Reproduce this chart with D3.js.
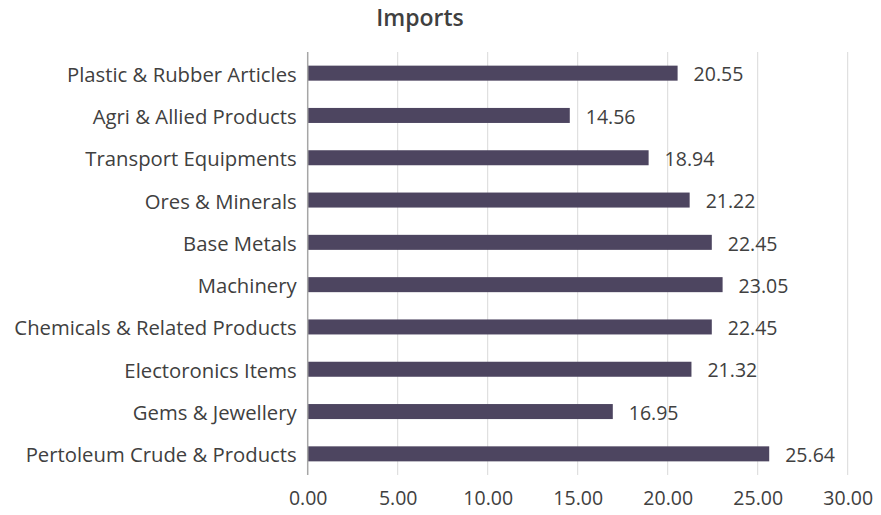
<!DOCTYPE html>
<html>
<head>
<meta charset="utf-8">
<script src="https://cdn.jsdelivr.net/npm/d3@7/dist/d3.min.js"></script>
<style>
  body { margin: 0; background: #fff; }
  svg text { font-family: "Open Sans", "Noto Sans", sans-serif; fill: #404040; }
</style>
</head>
<body>
<svg id="chart" width="881" height="515"></svg>
<script>
// Import categories, top to bottom
const categories = [
  "Plastic & Rubber Articles",
  "Agri & Allied Products",
  "Transport Equipments",
  "Ores & Minerals",
  "Base Metals",
  "Machinery",
  "Chemicals & Related Products",
  "Electoronics Items",
  "Gems & Jewellery",
  "Pertoleum Crude & Products"
];
const values = [20.55, 14.56, 18.94, 21.22, 22.45, 23.05, 22.45, 21.32, 16.95, 25.64];
const xTicks = [0, 5, 10, 15, 20, 25, 30];

const svg = d3.select("#chart");
const margin = { left: 307.7, right: 881 - 847.7, top: 52, bottom: 515 - 475 };
const W = 881, H = 515;

const x = d3.scaleLinear().domain([0, 30]).range([margin.left, W - margin.right]);
const y = d3.scaleBand().domain(categories).range([margin.top, H - margin.bottom]).paddingInner(0.645).paddingOuter(0.3225);

// Title
svg.append("text")
  .attr("x", 420).attr("y", 26)
  .attr("text-anchor", "middle")
  .style("font-size", "23px").style("font-weight", "600")
  .text("Imports");

// Vertical gridlines
svg.append("g").selectAll("line")
  .data(xTicks.slice(1))
  .join("line")
  .attr("x1", d => x(d)).attr("x2", d => x(d))
  .attr("y1", margin.top).attr("y2", H - margin.bottom)
  .attr("stroke", "#d9d9d9").attr("stroke-width", 1);

// Bars
svg.append("g").selectAll("rect")
  .data(values)
  .join("rect")
  .attr("x", x(0))
  .attr("y", (d, i) => y(categories[i]))
  .attr("width", d => x(d) - x(0))
  .attr("height", y.bandwidth())
  .attr("fill", "#4d4560");

// Value labels
svg.append("g").selectAll("text")
  .data(values)
  .join("text")
  .attr("x", d => x(d) + 16)
  .attr("y", (d, i) => y(categories[i]) + y.bandwidth() / 2)
  .attr("dy", "0.42em")
  .style("font-size", "19.5px")
  .text(d => d.toFixed(2));

// Category axis
const yAxis = svg.append("g")
  .attr("transform", `translate(${x(0)},0)`)
  .call(d3.axisLeft(y).tickSize(0).tickPadding(11));
yAxis.select(".domain").attr("stroke", "#a6a6a6").attr("stroke-width", 1.5)
  .attr("d", `M0,${margin.top}V${H - margin.bottom}`);
yAxis.selectAll("text").style("font-size", "20.3px").attr("fill", "#404040").attr("dy", "0.42em");

// Value axis
const xAxis = svg.append("g")
  .attr("transform", `translate(0,${H - margin.bottom})`)
  .call(d3.axisBottom(x).tickValues(xTicks).tickFormat(d3.format(".2f")).tickSize(0).tickPadding(16));
xAxis.select(".domain").remove();
xAxis.selectAll("text").style("font-size", "19.5px").attr("fill", "#404040");
</script>
</body>
</html>
